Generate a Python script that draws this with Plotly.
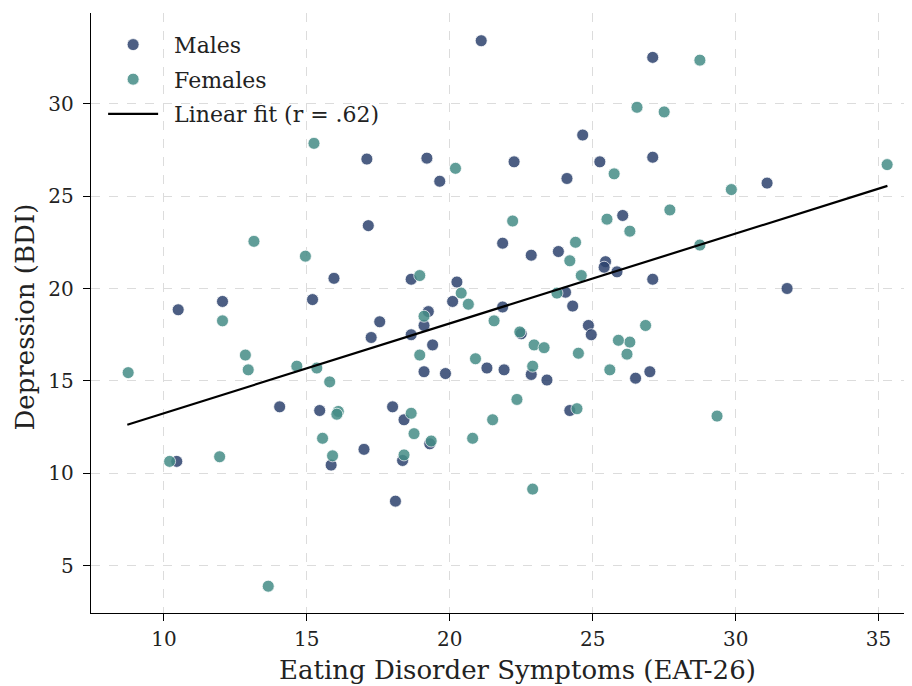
import plotly.graph_objects as go

# Males: EAT-26 (x) and BDI (y)
male_eat = [21.1, 27.1, 17.1, 19.2, 19.65, 22.25, 24.65, 24.1, 25.25, 27.1,
            31.1, 27.1, 31.8, 27.0, 26.5, 17.15, 21.85, 22.85, 23.8, 26.05,
            25.45, 25.4, 25.85, 18.65, 20.25, 20.1, 21.85, 24.05, 24.3, 19.25,
            17.55, 19.1, 17.25, 18.65, 22.5, 24.85, 24.95, 19.4, 19.1, 19.85,
            21.3, 21.9, 22.85, 23.4, 18.0, 24.2, 18.4, 19.3, 18.35, 18.1,
            17.0, 15.95, 12.05, 10.5, 15.2, 14.05, 15.45, 10.45, 15.85]
male_bdi = [33.4, 32.5, 27.0, 27.05, 25.8, 26.85, 28.3, 25.95, 26.85, 27.1,
            25.7, 20.5, 20.0, 15.5, 15.15, 23.4, 22.45, 21.8, 22.0, 23.95,
            21.45, 21.15, 20.9, 20.5, 20.35, 19.3, 19.0, 19.8, 19.05, 18.75,
            18.2, 18.0, 17.35, 17.5, 17.55, 18.0, 17.5, 16.95, 15.5, 15.4,
            15.7, 15.6, 15.35, 15.05, 13.6, 13.4, 12.9, 11.6, 10.7, 8.5,
            11.3, 20.55, 19.3, 18.85, 19.4, 13.6, 13.4, 10.65, 10.45]

# Females
female_eat = [20.2, 25.75, 26.55, 28.75, 27.5, 29.85, 35.3, 27.7, 26.3, 28.75,
              26.85, 26.3, 26.2, 29.35, 22.2, 24.4, 24.2, 25.5, 24.6, 18.95,
              20.4, 20.65, 23.75, 19.1, 21.55, 22.45, 18.95, 22.95, 23.3, 24.5,
              25.9, 20.9, 22.9, 25.6, 22.35, 24.45, 18.65, 21.5, 18.75, 19.35,
              20.8, 18.4, 22.9, 13.15, 14.95, 12.05, 12.85, 12.95, 8.75, 14.65,
              15.35, 15.8, 16.1, 16.05, 10.2, 11.95, 15.55, 15.9, 13.65, 15.25]
female_bdi = [26.5, 26.2, 29.8, 32.35, 29.55, 25.35, 26.7, 24.25, 23.1, 22.35,
              18.0, 17.1, 16.45, 13.1, 23.65, 22.5, 21.5, 23.75, 20.7, 20.7,
              19.75, 19.15, 19.75, 18.5, 18.25, 17.65, 16.4, 16.95, 16.8, 16.5,
              17.2, 16.2, 15.8, 15.6, 14.0, 13.5, 13.25, 12.9, 12.15, 11.75,
              11.9, 11.0, 9.15, 22.55, 21.75, 18.25, 16.4, 15.6, 15.45, 15.8,
              15.7, 14.95, 13.35, 13.2, 10.65, 10.9, 11.9, 10.95, 3.9, 27.85]

# Linear fit endpoints
fit_x = [8.72, 35.31]
fit_y = [12.63, 25.55]

x_ticks = [10, 15, 20, 25, 30, 35]
y_ticks = [5, 10, 15, 20, 25, 30]

FONT = "DejaVu Serif"
TXT = "#222222"
male_color = "#2d436e"
female_color = "#458d87"
GAP = "\u2002"  # small gap between legend symbol and label

fig = go.Figure()
fig.add_trace(go.Scatter(
    x=male_eat, y=male_bdi, mode="markers", name=GAP + "Males",
    legendgroup="m",
    marker=dict(size=12, color=male_color, opacity=0.85,
                line=dict(color="white", width=0.8)),
))
fig.add_trace(go.Scatter(
    x=female_eat, y=female_bdi, mode="markers", name=GAP + "Females",
    legendgroup="f",
    marker=dict(size=12, color=female_color, opacity=0.85,
                line=dict(color="white", width=0.8)),
))
fig.add_trace(go.Scatter(
    x=fit_x, y=fit_y, mode="lines", name=GAP + "Linear fit (r = .62)",
    legendgroup="fit",
    line=dict(color="black", width=2.2),
))

axis_common = dict(
    showline=True, linecolor="black", linewidth=1.4,
    ticks="outside", ticklen=7, tickwidth=1.2, tickcolor="black",
    showgrid=True, gridcolor="#dcdcdc", gridwidth=1, griddash="dash",
    zeroline=False, mirror=False,
    tickfont=dict(family=FONT, size=20, color=TXT),
)

fig.update_layout(
    width=904, height=678,
    margin=dict(l=83, r=2, t=5, b=73, autoexpand=False),
    paper_bgcolor="white", plot_bgcolor="white",
    font=dict(family=FONT, color=TXT),
    showlegend=True,
    legend=dict(
        x=0.0148, y=0.982, xanchor="left", yanchor="top",
        bgcolor="rgba(0,0,0,0)", borderwidth=0,
        font=dict(family=FONT, size=22, color=TXT),
        itemwidth=50,
        tracegroupgap=3,
    ),
    xaxis=dict(range=[7.45, 36.1], tickvals=x_ticks, ticklabelstandoff=1,
               **axis_common),
    yaxis=dict(range=[2.45, 34.9], tickvals=y_ticks, ticklabelstandoff=5,
               **axis_common),
    annotations=[
        dict(text="Eating Disorder Symptoms (EAT-26)", xref="paper", yref="paper",
             x=0.521, y=-0.095, xanchor="center", yanchor="middle",
             showarrow=False, font=dict(family=FONT, size=26, color=TXT)),
        dict(text="Depression (BDI)", xref="paper", yref="paper",
             x=-0.0818, y=0.4925, xanchor="center", yanchor="middle",
             textangle=-90, showarrow=False,
             font=dict(family=FONT, size=26, color=TXT)),
    ],
)

fig.write_html("out.html")
